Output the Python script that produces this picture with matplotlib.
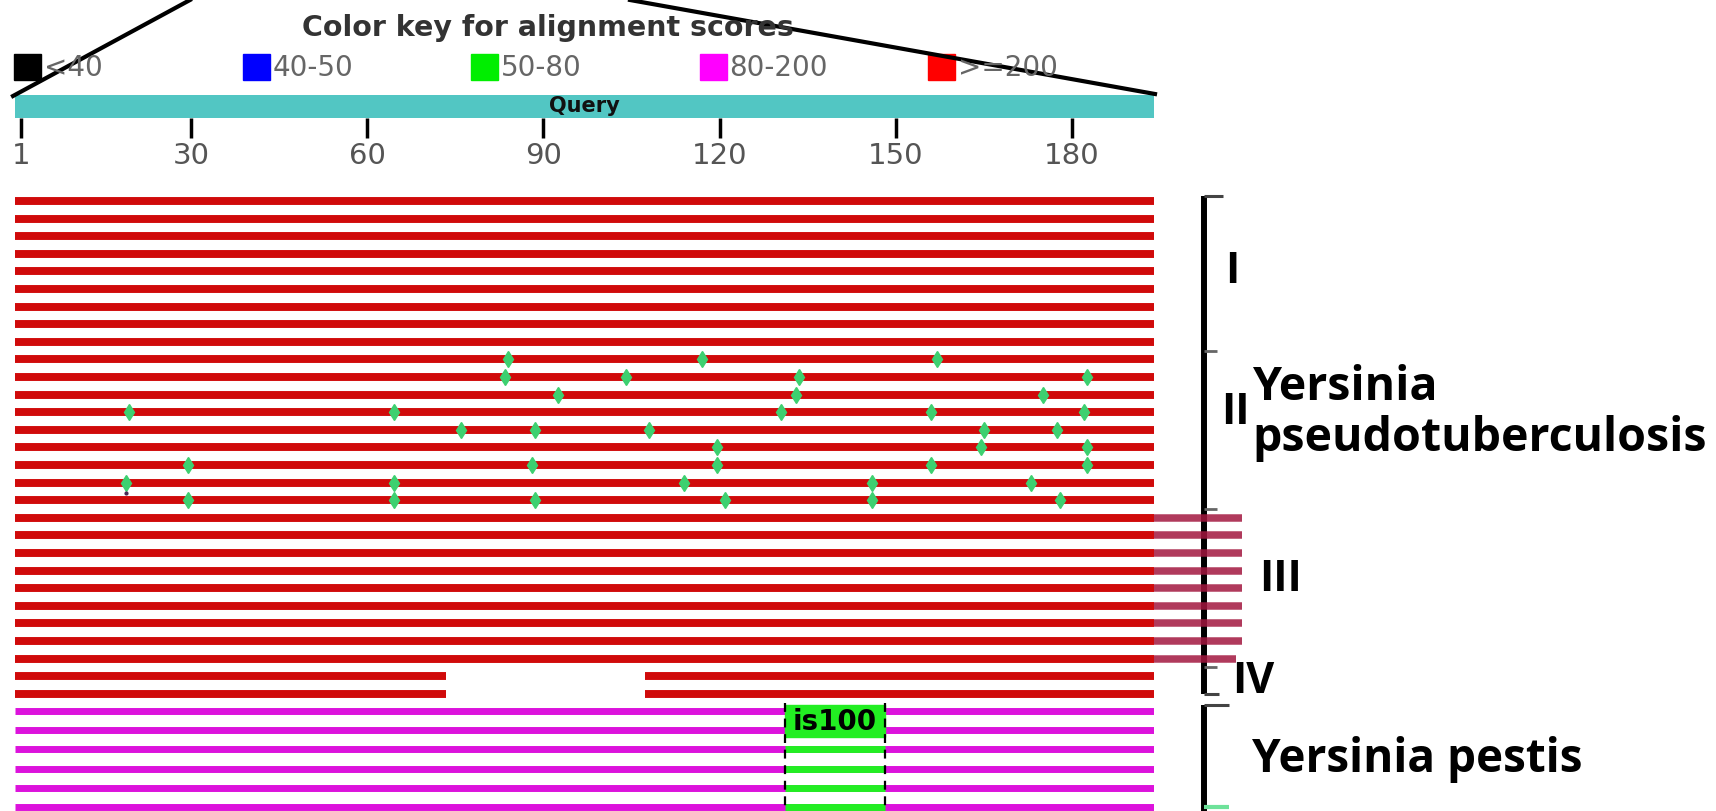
import matplotlib
matplotlib.use('Agg')
import matplotlib.pyplot as plt
from matplotlib.patches import Rectangle

W, H = 1716, 811

# query ruler
QUERY_LEN = 194
TICKS = [1, 30, 60, 90, 120, 150, 180]
TICK_LABELS = ['1', '30', '60', '90', '120', '150', '180']

# colour key
KEY_LABELS = ['<40', '40-50', '50-80', '80-200', '>=200']
KEY_COLORS = ['#000000', '#0000ff', '#00ee00', '#ff00ff', '#ff0000']

# Y. pseudotuberculosis hits, score >=200
N_RED = 29
GROUPS = ['I', 'II', 'III', 'IV']
GROUP_FIRST = [0, 9, 18, 27]
GROUP_LAST = [8, 17, 26, 28]
GAP_ROWS = [27, 28]
GAP_START, GAP_END = 73.4, 107.3

# mismatch marks (row, query position)
SNP_ROW = [9, 9, 9,
           10, 10, 10, 10,
           11, 11, 11,
           12, 12, 12, 12, 12,
           13, 13, 13, 13, 13,
           14, 14, 14,
           15, 15, 15, 15, 15,
           16, 16, 16, 16, 16,
           17, 17, 17, 17, 17, 17]
SNP_POS = [84, 117, 157,
           83.5, 104, 133.5, 182.5,
           92.5, 133, 175,
           19.5, 64.5, 130.5, 156, 182,
           76, 88.5, 108, 165, 177.5,
           119.5, 164.5, 182.5,
           29.5, 88, 119.5, 156, 182.5,
           19, 64.5, 114, 146, 173,
           29.5, 64.5, 88.5, 121, 146, 178]

# group III rows run past the query end
EXT_ROWS = [18, 19, 20, 21, 22, 23, 24, 25, 26]
EXT_END = [209, 209, 209, 209, 209, 209, 209, 209, 208]

# Y. pestis hits, score 80-200, with IS100 window 50-80
N_PEST = 6
IS100_START, IS100_END = 131.1, 148.2

# layout (pixels)
X0_PX, PX_PER = 14.8, 5.873
ROW0_PX, ROW_STEP = 201, 17.6
PEST0_PX, PEST_STEP = 711, 19.2
BRACKET_X = 202.5

RED = '#d00a0a'
MAGENTA = '#dc12dc'
CYAN = '#52c6c3'

fig = plt.figure(figsize=(W / 100, H / 100), dpi=100)


def px_axes(x0, y0, x1, y1):
    return fig.add_axes([x0 / W, 1 - y1 / H, (x1 - x0) / W, (y1 - y0) / H])


x_right = X0_PX + QUERY_LEN * PX_PER

# query bar + ruler
ax_q = px_axes(X0_PX, 95, x_right, 118)
ax_q.barh(0, QUERY_LEN, left=0, height=1, color=CYAN)
ax_q.set_xlim(0, QUERY_LEN)
ax_q.set_ylim(-0.5, 0.5)
ax_q.text(QUERY_LEN / 2, 0, 'Query', ha='center', va='center',
          fontsize=15, fontweight='bold', color='#111111')
for s in ax_q.spines.values():
    s.set_visible(False)
ax_q.set_yticks([])
ax_q.set_xticks(TICKS)
ax_q.set_xticklabels(TICK_LABELS)
ax_q.tick_params(axis='x', length=14.5, width=2.5, color='black',
                 labelcolor='#555555', labelsize=21, pad=3)
ax_q.set_facecolor('none')

# pseudotuberculosis rows
ax_r = px_axes(X0_PX, ROW0_PX - 0.5 * ROW_STEP, x_right, ROW0_PX + (N_RED - 0.5) * ROW_STEP)
ax_r.set_xlim(0, QUERY_LEN)
ax_r.set_ylim(N_RED - 0.5, -0.5)
ax_r.axis('off')
for k in range(N_RED):
    if k in GAP_ROWS:
        ax_r.hlines([k, k], [0, GAP_END], [GAP_START, QUERY_LEN], color=RED, lw=5.7)
    else:
        ax_r.hlines(k, 0, QUERY_LEN, color=RED, lw=5.7)
ax_r.plot(SNP_POS, SNP_ROW, 'd', color='#3dd070', ms=8.5, mec='#3dd070', zorder=3)
ax_r.plot([19], [16.6], '.', color='#4a2a55', ms=4, zorder=3)

# bracket for the four groups
top, bottom = GROUP_FIRST[0] - 0.3, GROUP_LAST[-1]
ax_r.vlines(BRACKET_X, top, bottom, color='black', lw=4.3, clip_on=False, zorder=2)
ax_r.hlines(top, BRACKET_X, BRACKET_X + 3.2, color='#444444', lw=2.2, clip_on=False)
ax_r.hlines(bottom, BRACKET_X, BRACKET_X + 2.6, color='#444444', lw=2.2, clip_on=False)
for g in GROUP_FIRST[1:]:
    ax_r.hlines(g - 0.5, BRACKET_X, BRACKET_X + 2.2, color='#666666', lw=2,
                clip_on=False)
for k, end in zip(EXT_ROWS, EXT_END):
    ax_r.hlines(k, QUERY_LEN, end, color='#a3173f', lw=5.4, alpha=0.85,
                clip_on=False, zorder=4)

lab = dict(fontsize=31, fontweight='bold', family='Open Sans', color='black',
           va='center', ha='left', clip_on=False)
species = dict(lab, fontsize=33.5)
label_x = [206.0, 205.4, 211.8, 207.3]
label_y = [4.0, 12.0, 21.5, 27.3]
for name, lx, ly in zip(GROUPS, label_x, label_y):
    ax_r.text(lx, ly, name, **lab)
ax_r.text(210.7, 10.6, 'Yersinia', **species)
ax_r.text(210.7, 13.5, 'pseudotuberculosis', **species)

# pestis rows
ax_p = px_axes(X0_PX, PEST0_PX - 0.5 * PEST_STEP, x_right, PEST0_PX + (N_PEST - 0.5) * PEST_STEP)
ax_p.set_xlim(0, QUERY_LEN)
ax_p.set_ylim(N_PEST - 0.5, -0.5)
ax_p.axis('off')
for m in range(N_PEST):
    ax_p.hlines(m, 0, QUERY_LEN, color=MAGENTA, lw=5)
    if m >= 2:
        ax_p.hlines(m, IS100_START, IS100_END, color='#22ee22', lw=5, zorder=3)
ax_p.add_patch(Rectangle((IS100_START, -0.3), IS100_END - IS100_START, 1.65,
                         color='#22ee22', zorder=3))
ax_p.text((IS100_START + IS100_END) / 2, 0.55, 'is100', ha='center', va='center',
          fontsize=20, fontweight='bold', color='black', zorder=5)
ax_p.vlines([IS100_START, IS100_END], -0.4, N_PEST - 0.5, color='black', lw=1.6,
            linestyles=(0, (4, 3)), zorder=4)
ax_p.vlines(BRACKET_X, -0.3, N_PEST, color='black', lw=4.3, clip_on=False)
ax_p.hlines(-0.3, BRACKET_X, BRACKET_X + 4.3, color='#444444', lw=2.2, clip_on=False)
ax_p.hlines(5.0, BRACKET_X, BRACKET_X + 4.3, color='#6ee29a', lw=3, clip_on=False)
ax_p.text(210.7, 2.55, 'Yersinia pestis', **dict(species, fontsize=33))

# colour key and zoom lines, drawn in pixel space
ax_o = fig.add_axes([0, 0, 1, 1])
ax_o.set_xlim(0, W)
ax_o.set_ylim(H, 0)
ax_o.axis('off')
ax_o.set_facecolor('none')
ax_o.text(548, 28, 'Color key for alignment scores', ha='center', va='center',
          fontsize=20.5, fontweight='bold', color='#333333')
for i, (lbl, c) in enumerate(zip(KEY_LABELS, KEY_COLORS)):
    x0 = 14 + 228.5 * i
    ax_o.add_patch(Rectangle((x0, 54), 27, 26, color=c))
    ax_o.text(x0 + 30, 68, lbl, ha='left', va='center', fontsize=20, color='#666666')
ax_o.plot([13, 190], [96, 0], color='black', lw=3)
ax_o.plot([1155, 630], [94, 0], color='black', lw=3)

fig.savefig('out.png', dpi=100)
